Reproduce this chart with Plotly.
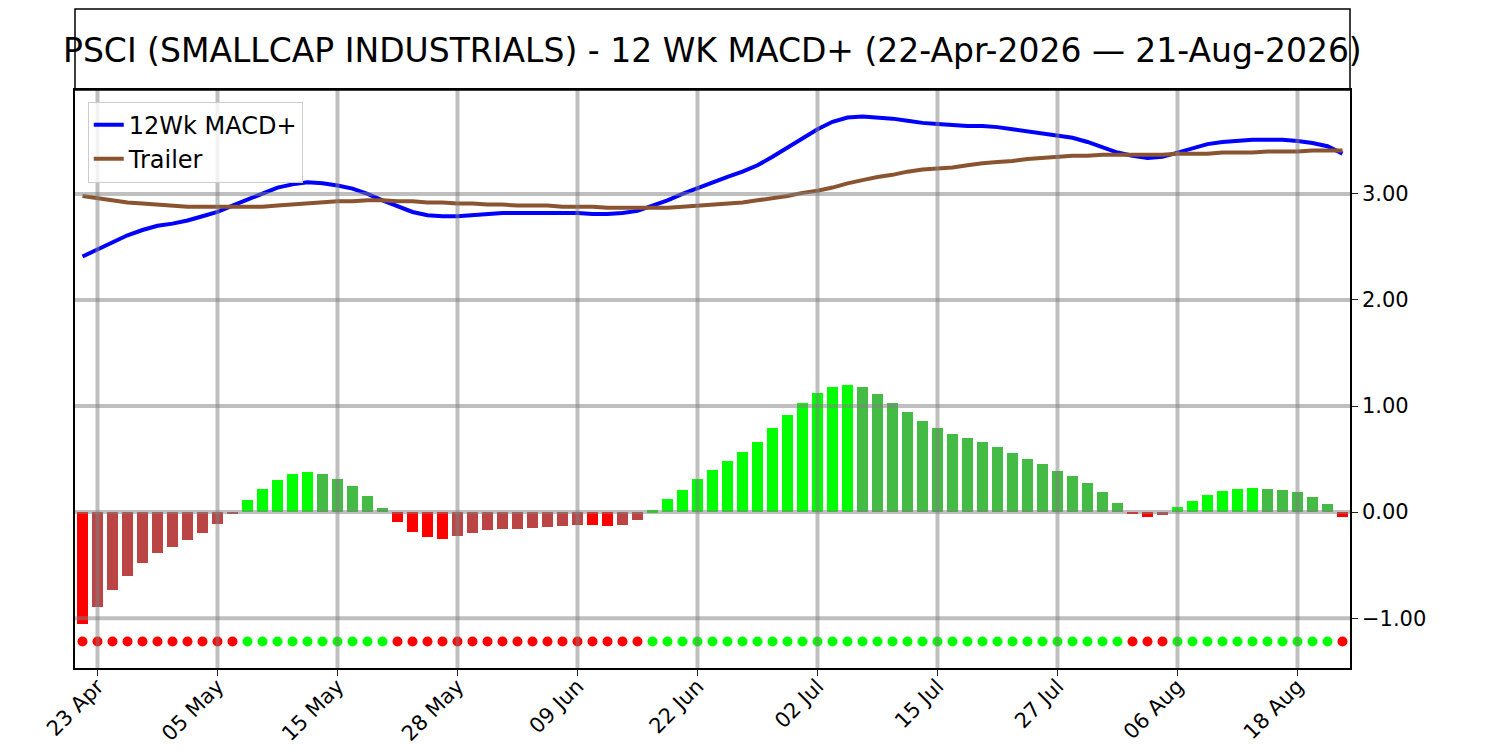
import pandas as pd
import plotly.graph_objects as go

# trading days 22-Apr-2026 .. 21-Aug-2026 (NYSE holidays removed)
holidays = ['2026-05-25', '2026-06-19', '2026-07-03']
days = [d for d in pd.bdate_range('2026-04-22', '2026-08-21') if d.strftime('%Y-%m-%d') not in holidays]
idx = list(range(len(days)))

macd = [2.41, 2.48, 2.54, 2.61, 2.66, 2.70, 2.72, 2.75, 2.79, 2.83,
        2.89, 2.95, 3.01, 3.06, 3.09, 3.11, 3.10, 3.08, 3.05, 3.00,
        2.94, 2.89, 2.83, 2.80, 2.79, 2.79, 2.80, 2.81, 2.82, 2.82,
        2.82, 2.82, 2.82, 2.82, 2.81, 2.81, 2.82, 2.84, 2.89, 2.94,
        3.00, 3.05, 3.11, 3.16, 3.21, 3.27, 3.35, 3.44, 3.53, 3.61,
        3.68, 3.72, 3.73, 3.72, 3.71, 3.69, 3.67, 3.66, 3.65, 3.64,
        3.64, 3.63, 3.61, 3.59, 3.57, 3.55, 3.53, 3.49, 3.44, 3.39,
        3.36, 3.34, 3.35, 3.39, 3.43, 3.47, 3.49, 3.50, 3.51, 3.51,
        3.51, 3.50, 3.48, 3.45, 3.38]

trailer = [2.98, 2.96, 2.94, 2.92, 2.91, 2.90, 2.89, 2.88, 2.88, 2.88,
           2.88, 2.88, 2.88, 2.89, 2.90, 2.91, 2.92, 2.93, 2.93, 2.94,
           2.94, 2.93, 2.93, 2.92, 2.92, 2.91, 2.91, 2.90, 2.90, 2.89,
           2.89, 2.89, 2.88, 2.88, 2.88, 2.87, 2.87, 2.87, 2.87, 2.87,
           2.88, 2.89, 2.90, 2.91, 2.92, 2.94, 2.96, 2.98, 3.01, 3.03,
           3.06, 3.10, 3.13, 3.16, 3.18, 3.21, 3.23, 3.24, 3.25, 3.27,
           3.29, 3.30, 3.31, 3.33, 3.34, 3.35, 3.36, 3.36, 3.37, 3.37,
           3.37, 3.37, 3.37, 3.38, 3.38, 3.38, 3.39, 3.39, 3.39, 3.40,
           3.40, 3.40, 3.41, 3.41, 3.41]

hist = [-1.054, -0.893, -0.735, -0.600, -0.480, -0.385, -0.330, -0.260, -0.195, -0.110,
        -0.010, 0.114, 0.218, 0.303, 0.360, 0.379, 0.360, 0.310, 0.246, 0.151,
        0.038, -0.090, -0.186, -0.233, -0.252, -0.224, -0.196, -0.167, -0.160, -0.157,
        -0.148, -0.139, -0.129, -0.118, -0.122, -0.130, -0.120, -0.073, 0.016, 0.123,
        0.208, 0.312, 0.397, 0.483, 0.568, 0.662, 0.795, 0.918, 1.032, 1.126,
        1.183, 1.202, 1.183, 1.117, 1.032, 0.946, 0.861, 0.795, 0.738, 0.700,
        0.662, 0.615, 0.558, 0.502, 0.454, 0.388, 0.341, 0.274, 0.189, 0.085,
        -0.012, -0.044, -0.025, 0.047, 0.104, 0.161, 0.199, 0.218, 0.227, 0.218,
        0.208, 0.189, 0.142, 0.076, -0.044]

signal_level = -1.22
ytick_vals = [-1, 0, 1, 2, 3]
tick_idx = idx[1::8]
tick_text = [days[i].strftime('%d %b') for i in tick_idx]

title = 'PSCI (SMALLCAP INDUSTRIALS) - 12 WK MACD+ (22-Apr-2026 \u2014 21-Aug-2026)'


def bar_color(v, prev):
    if v >= 0:
        return '#00ff00' if prev is None or v >= prev else '#44bb44'
    return '#ff0000' if prev is None or v <= prev else '#bb4444'


bar_colors = [bar_color(v, hist[i - 1] if i > 0 else None) for i, v in enumerate(hist)]
dot_colors = ['#00ff00' if v > 0 else '#ff0000' for v in hist]

fig = go.Figure()

fig.add_trace(go.Bar(x=idx, y=hist, width=0.7, marker=dict(color=bar_colors, line_width=0),
                     showlegend=False))
fig.add_trace(go.Scatter(x=idx, y=[signal_level] * len(idx), mode='markers',
                         marker=dict(color=dot_colors, size=10), showlegend=False))
fig.add_trace(go.Scatter(x=idx, y=macd, mode='lines', name='12Wk MACD+',
                         line=dict(color='#0000ff', width=4)))
fig.add_trace(go.Scatter(x=idx, y=trailer, mode='lines', name='Trailer',
                         line=dict(color='#8b5430', width=4)))

# grid drawn over the bars, semi-transparent like matplotlib
grid = dict(color='rgba(128,128,128,0.5)', width=4)
for t in tick_idx:
    fig.add_shape(type='line', xref='x', yref='paper', x0=t, x1=t, y0=0, y1=1,
                  line=grid, layer='above')
for v in ytick_vals:
    fig.add_shape(type='line', xref='paper', yref='y', x0=0, x1=1, y0=v, y1=v,
                  line=grid, layer='above')

# title box above the plot
fig.add_shape(type='rect', xref='paper', yref='paper', x0=0, x1=1, y0=1, y1=1.14,
              line=dict(color='black', width=1.5))
fig.add_annotation(text=title, xref='paper', yref='paper', x=0.5, y=1.068,
                   xanchor='center', yanchor='middle', showarrow=False,
                   font=dict(size=33, color='black'))

fig.update_xaxes(range=[-0.5, len(idx) - 0.5], tickvals=tick_idx, ticktext=tick_text,
                 tickangle=-45, showgrid=False, zeroline=False, showline=True, mirror=True,
                 linecolor='black', linewidth=1.5, ticks='outside', ticklen=6,
                 tickcolor='#222', tickfont=dict(size=21, color='black'),
                 ticklabelstandoff=-10, automargin=False)
fig.update_yaxes(range=[-1.47, 3.98], tickvals=ytick_vals, tickformat='.2f', side='right',
                 showgrid=False, zeroline=False, showline=True, mirror=True,
                 linecolor='black', linewidth=1.5, ticks='outside', ticklen=6,
                 tickcolor='#222', tickfont=dict(size=21, color='black'), automargin=False)

# page body adds an 8px offset, margins are shifted to compensate
fig.update_layout(
    width=1500, height=750,
    margin=dict(l=67, r=158, t=82, b=90),
    plot_bgcolor='white', paper_bgcolor='white',
    font=dict(family='DejaVu Sans', color='black'),
    bargap=0,
    legend=dict(x=0.01, y=0.98, xanchor='left', yanchor='top',
                bgcolor='rgba(255,255,255,0.8)', bordercolor='#cccccc', borderwidth=1,
                font=dict(size=24), itemwidth=30),
)

fig.write_html('out.html')
